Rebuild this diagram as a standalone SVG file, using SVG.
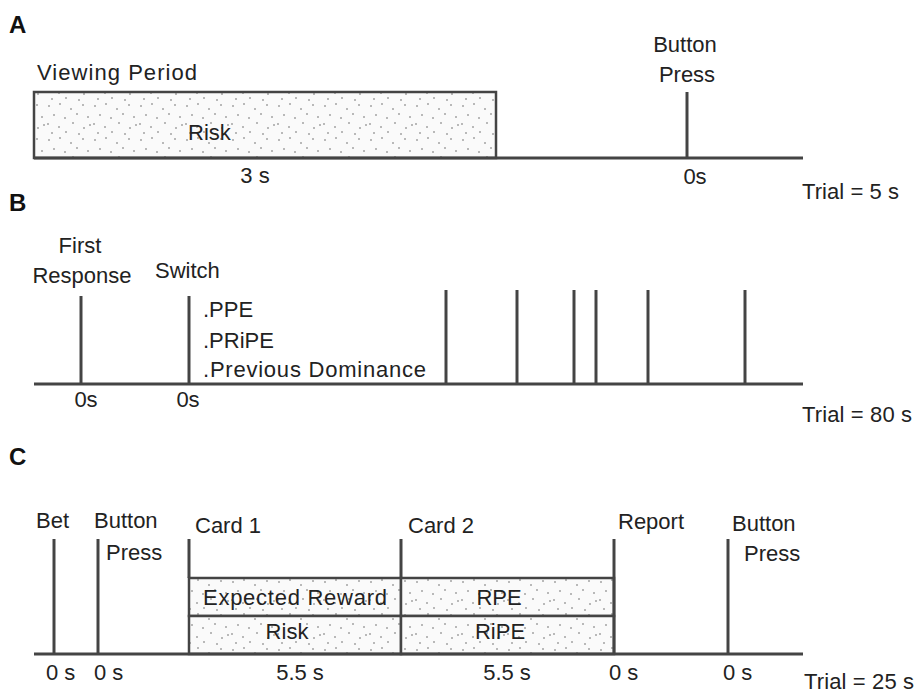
<svg xmlns="http://www.w3.org/2000/svg" width="919" height="693" viewBox="0 0 919 693">
<defs>
<pattern id="dots" x="0" y="0" width="46" height="34" patternUnits="userSpaceOnUse">
<rect width="46" height="34" fill="#fafafa"/>
<g fill="#666">
<circle cx="3" cy="4" r="0.8"/><circle cx="14" cy="2" r="0.8"/><circle cx="25" cy="7" r="0.8"/><circle cx="37" cy="3" r="0.8"/>
<circle cx="8" cy="13" r="0.8"/><circle cx="19" cy="16" r="0.8"/><circle cx="31" cy="12" r="0.8"/><circle cx="42" cy="15" r="0.8"/>
<circle cx="2" cy="22" r="0.8"/><circle cx="13" cy="25" r="0.8"/><circle cx="27" cy="21" r="0.8"/><circle cx="38" cy="26" r="0.8"/>
<circle cx="6" cy="31" r="0.8"/><circle cx="20" cy="30" r="0.8"/><circle cx="33" cy="32" r="0.8"/><circle cx="44" cy="23" r="0.8"/>
</g>
</pattern>
</defs>
<style>
text{font-family:"Liberation Sans",Arial,sans-serif;font-size:22px;fill:#222}
.lab{font-weight:bold;font-size:24px;fill:#111}
.ln{stroke:#444;stroke-width:3;fill:none}
.box{fill:url(#dots);stroke:#444;stroke-width:2.5}
.mid{text-anchor:middle}
</style>
<rect width="919" height="693" fill="#fff"/>

<!-- Panel labels -->
<text class="lab" x="9" y="33">A</text>
<text class="lab" x="9" y="211">B</text>
<text class="lab" x="9" y="465">C</text>

<!-- Panel A -->
<g id="a-viewing">
<text x="37" y="80" textLength="160">Viewing Period</text>
<rect class="box" x="34" y="92" width="462" height="66"/>
<text x="188" y="140">Risk</text>
<text class="mid" x="255" y="183">3 s</text>
</g>
<g id="a-button">
<line class="ln" x1="687" y1="92" x2="687" y2="158"/>
<text class="mid" x="685" y="52">Button</text>
<text class="mid" x="687" y="82">Press</text>
<text class="mid" x="695" y="184">0s</text>
</g>
<g id="a-trial"><text x="802" y="199" textLength="97">Trial = 5 s</text></g>

<!-- Panel B -->
<g id="b-first">
<line class="ln" x1="81" y1="296" x2="81" y2="384"/>
<text class="mid" x="80" y="253">First</text>
<text class="mid" x="82" y="283">Response</text>
<text class="mid" x="86" y="407">0s</text>
</g>
<g id="b-switch">
<line class="ln" x1="189" y1="296" x2="189" y2="384"/>
<text x="155" y="278">Switch</text>
<text x="203" y="317">.PPE</text>
<text x="203" y="348">.PRiPE</text>
<text x="203" y="377" textLength="223">.Previous Dominance</text>
<text class="mid" x="188" y="407">0s</text>
</g>
<g id="b-events">
<line class="ln" x1="446" y1="290" x2="446" y2="384"/>
<line class="ln" x1="517" y1="290" x2="517" y2="384"/>
<line class="ln" x1="574" y1="290" x2="574" y2="384"/>
<line class="ln" x1="596" y1="290" x2="596" y2="384"/>
<line class="ln" x1="648" y1="290" x2="648" y2="384"/>
<line class="ln" x1="745" y1="290" x2="745" y2="384"/>
</g>
<g id="b-trial"><text x="802" y="422" textLength="110">Trial = 80 s</text></g>

<!-- Panel C -->
<g id="c-bet">
<line class="ln" x1="54" y1="539" x2="54" y2="654"/>
<text x="36" y="528">Bet</text>
<text x="46" y="680">0 s</text>
</g>
<g id="c-button1">
<line class="ln" x1="98" y1="539" x2="98" y2="654"/>
<text x="94" y="528">Button</text>
<text x="106" y="560">Press</text>
<text x="94" y="680">0 s</text>
</g>
<g id="c-card1">
<line class="ln" x1="189" y1="539" x2="189" y2="578"/>
<text x="195" y="533">Card 1</text>
<rect class="box" x="189" y="578" width="212" height="38"/>
<rect class="box" x="189" y="616" width="212" height="38"/>
<text x="203" y="605" textLength="184">Expected Reward</text>
<text class="mid" x="287" y="639">Risk</text>
<text class="mid" x="300" y="680">5.5 s</text>
</g>
<g id="c-card2">
<line class="ln" x1="401" y1="539" x2="401" y2="578"/>
<text x="408" y="533">Card 2</text>
<rect class="box" x="401" y="578" width="213" height="38"/>
<rect class="box" x="401" y="616" width="213" height="38"/>
<text class="mid" x="499" y="605">RPE</text>
<text class="mid" x="500" y="639">RiPE</text>
<text class="mid" x="507" y="680">5.5 s</text>
</g>
<g id="c-report">
<line class="ln" x1="614" y1="539" x2="614" y2="654"/>
<text x="618" y="529">Report</text>
<text x="609" y="680">0 s</text>
</g>
<g id="c-button2">
<line class="ln" x1="728" y1="539" x2="728" y2="654"/>
<text x="732" y="531">Button</text>
<text x="744" y="561">Press</text>
<text x="723" y="680">0 s</text>
</g>
<g id="c-trial"><text x="804" y="689" textLength="110">Trial = 25 s</text></g>

<!-- Connectors: time axes -->
<g id="connectors">
<line class="ln" x1="34" y1="158" x2="803" y2="158"/>
<line class="ln" x1="34" y1="384" x2="803" y2="384"/>
<line class="ln" x1="34" y1="654" x2="803" y2="654"/>
</g>
</svg>
